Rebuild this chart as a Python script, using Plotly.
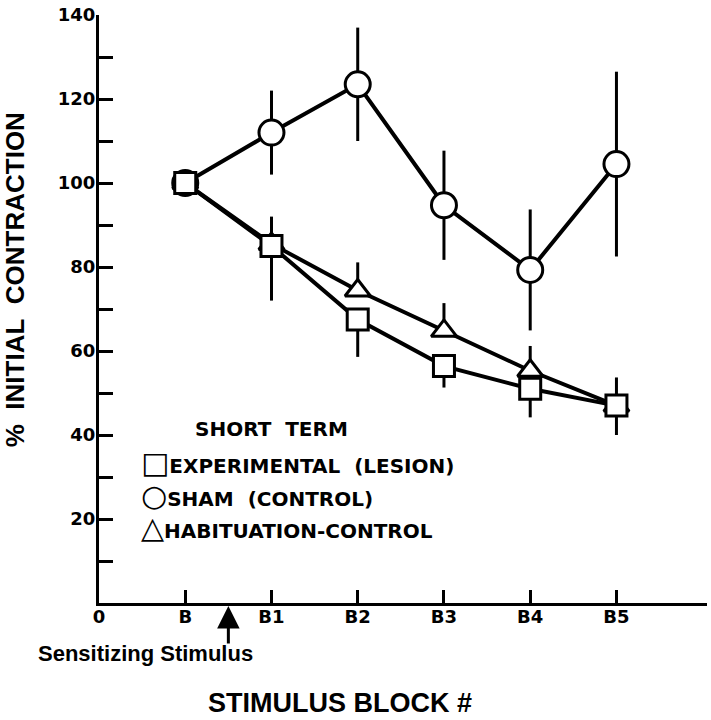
import plotly.graph_objects as go

# ---- data ----
x_tick_labels = ["0", "B", "B1", "B2", "B3", "B4", "B5"]
blocks = ["B", "B1", "B2", "B3", "B4", "B5"]

sham = [100, 112, 123.5, 94.7, 79.3, 104.5]
sham_err = [0, 10, 13.5, 13, 14.4, 22]

experimental = [100, 85, 67.5, 56.4, 51.0, 47.0]
experimental_err_minus = [0, 13, 8.9, 5.1, 6.8, 7.0]

habituation = [100, 85.5, 74.4, 64.8, 55.3, 47.0]
habituation_err_plus = [0, 6.5, 6.7, 6.6, 5.9, 6.7]

y_tick_values = [10, 20, 30, 40, 50, 60, 70, 80, 90, 100, 110, 120, 130, 140]
y_tick_labels = ["", "20", "", "40", "", "60", "", "80", "", "100", "", "120", "", "140"]

legend_title = "SHORT TERM"
legend_rows = [("\u25a1", "EXPERIMENTAL\u00a0\u00a0(LESION)"),
               ("\u25cb", "SHAM\u00a0\u00a0(CONTROL)"),
               ("\u25b3", "HABITUATION-CONTROL")]

# ---- layout geometry ----
W, H = 711, 720
ML, MR, MT, MB = 99, 4, 11, 117
PW, PH = W - ML - MR, H - MT - MB


def px_x(px):
    return (px - ML) / PW


def px_y(py):
    return (H - MB - py) / PH


BLACK = "black"
line_w = 4

fig = go.Figure()

fig.add_trace(go.Scatter(
    x=blocks, y=sham, mode="lines+markers", name="SHAM (CONTROL)",
    line=dict(color=BLACK, width=line_w),
    marker=dict(symbol="circle", size=25, color="white", line=dict(color=BLACK, width=3)),
    error_y=dict(type="data", array=sham_err, symmetric=True, color=BLACK, thickness=3, width=0),
    showlegend=False, cliponaxis=False))

fig.add_trace(go.Scatter(
    x=blocks, y=habituation, mode="lines+markers", name="HABITUATION-CONTROL",
    line=dict(color=BLACK, width=line_w),
    marker=dict(symbol="triangle-up", size=22, color="white", line=dict(color=BLACK, width=3)),
    error_y=dict(type="data", array=habituation_err_plus,
                 arrayminus=[0] * len(habituation_err_plus), symmetric=False,
                 color=BLACK, thickness=3, width=0),
    showlegend=False, cliponaxis=False))

fig.add_trace(go.Scatter(
    x=blocks, y=experimental, mode="lines+markers", name="EXPERIMENTAL (LESION)",
    line=dict(color=BLACK, width=line_w),
    marker=dict(symbol="square", size=21, color="white", line=dict(color=BLACK, width=3)),
    error_y=dict(type="data", array=[0] * len(experimental_err_minus),
                 arrayminus=experimental_err_minus, symmetric=False,
                 color=BLACK, thickness=3, width=0),
    showlegend=False, cliponaxis=False))

tick_font = dict(family="DejaVu Sans", size=18, color=BLACK, weight="bold")

fig.update_xaxes(
    type="category", categoryorder="array", categoryarray=x_tick_labels,
    range=[0, 7.05], showline=True, linewidth=3, linecolor=BLACK,
    ticks="inside", ticklen=13, tickwidth=3, tickcolor=BLACK,
    tickfont=tick_font, ticklabelstandoff=-5, showgrid=False, zeroline=False)

fig.update_yaxes(
    range=[0, 140], tickmode="array", tickvals=y_tick_values, ticktext=y_tick_labels,
    showline=True, linewidth=3, linecolor=BLACK,
    ticks="inside", ticklen=14, tickwidth=3, tickcolor=BLACK,
    tickfont=tick_font, ticklabelstandoff=-3, showgrid=False, zeroline=False)

annotations = []
# y-axis title
annotations.append(dict(
    text="%\u00a0\u00a0INITIAL\u00a0\u00a0CONTRACTION", textangle=-90,
    xref="paper", yref="paper", x=px_x(15), y=px_y(278),
    xanchor="center", yanchor="middle", showarrow=False,
    font=dict(family="Liberation Sans", size=26, color=BLACK, weight="bold")))
# x-axis title
annotations.append(dict(
    text="STIMULUS BLOCK #", xref="paper", yref="paper",
    x=px_x(340), y=px_y(704), xanchor="center", yanchor="middle", showarrow=False,
    font=dict(family="Liberation Sans", size=27, color=BLACK, weight="bold")))
# sensitizing stimulus label
annotations.append(dict(
    text="Sensitizing Stimulus", xref="paper", yref="paper",
    x=px_x(145), y=px_y(654), xanchor="center", yanchor="middle", showarrow=False,
    font=dict(family="Liberation Sans", size=22, color=BLACK, weight="bold")))
# arrow marking the sensitizing stimulus (between B and B1)
annotations.append(dict(
    text="", x=1.5, y=0, xref="x", yref="y", showarrow=True,
    arrowhead=2, arrowsize=1.5, arrowwidth=3, arrowcolor=BLACK,
    ax=0, ay=42, standoff=3))
# legend
legend_font = dict(family="DejaVu Sans", size=20, color=BLACK, weight="bold")
annotations.append(dict(
    text=legend_title.replace(" ", "\u00a0\u00a0"), xref="paper", yref="paper",
    x=px_x(193), y=px_y(428), xanchor="left", yanchor="middle", showarrow=False,
    font=legend_font))
for i, (sym, label) in enumerate(legend_rows):
    annotations.append(dict(
        text='<span style="font-size:30px">' + sym + '</span>' + label,
        xref="paper", yref="paper",
        x=px_x(139), y=px_y(462 + 32.5 * i), xanchor="left", yanchor="middle",
        showarrow=False, font=legend_font))

fig.update_layout(
    width=W, height=H, margin=dict(l=ML, r=MR, t=MT, b=MB),
    paper_bgcolor="white", plot_bgcolor="white",
    showlegend=False, annotations=annotations)

# remove the default page margin so the figure fills the window exactly
fig.write_html("out.html",
               config={"displayModeBar": False},
               post_script="document.body.style.margin='0px';"
                           "document.body.style.overflow='hidden';")
